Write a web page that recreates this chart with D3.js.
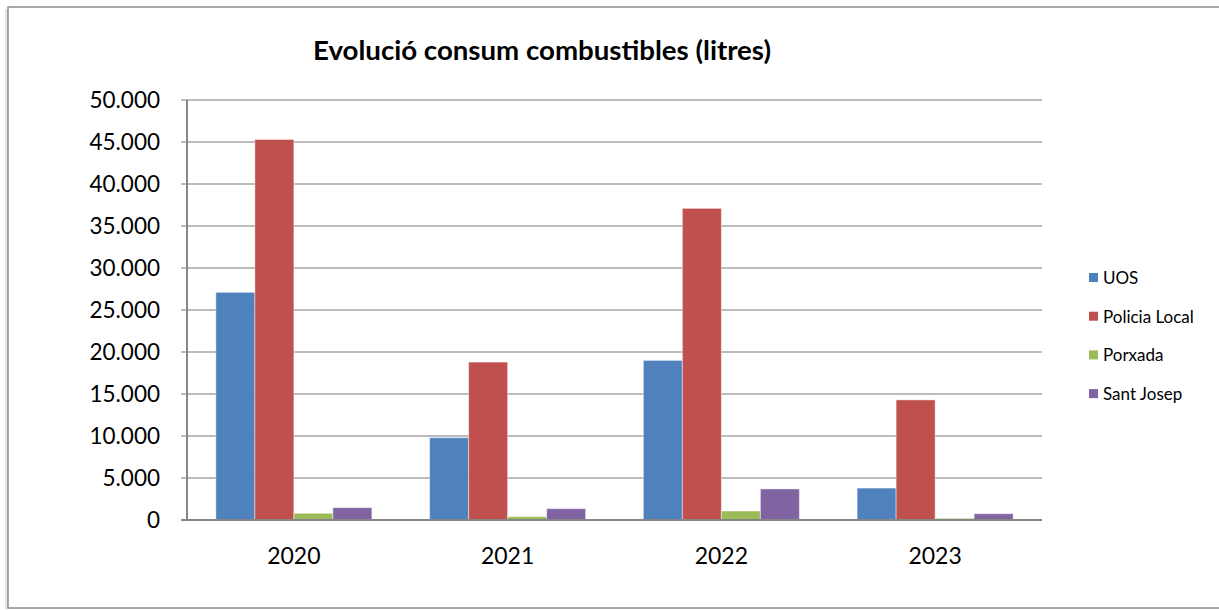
<!DOCTYPE html>
<html><head><meta charset="utf-8">
<script src="https://cdn.jsdelivr.net/npm/d3@7"></script>
<style>body{margin:0;background:#fff}svg{display:block}</style>
</head><body><svg id="c" width="1219" height="610"></svg>
<script>
const title = "Evolució consum combustibles (litres)";
const years = ["2020","2021","2022","2023"];
const seriesNames = ["UOS","Policia Local","Porxada","Sant Josep"];
const uos = [27100, 9800, 19000, 3800];
const policia = [45300, 18800, 37100, 14300];
const porxada = [800, 400, 1070, 200];
const santJosep = [1470, 1350, 3700, 750];
const yTicks = [0,5000,10000,15000,20000,25000,30000,35000,40000,45000,50000];
const colors = ["#4F81BD","#C0504D","#9BBB59","#8064A2"];
const seriesValues = [uos, policia, porxada, santJosep];

const svg = d3.select("#c");
const font = "Lato, 'Open Sans', sans-serif";

// outer frame with soft shadow
svg.append("rect").attr("x",5).attr("y",9).attr("width",5).attr("height",600).attr("fill","#e4e4e4");
svg.append("rect").attr("x",8).attr("y",7).attr("width",1215).attr("height",601)
  .attr("fill","#fff").attr("stroke","#8c8c8c").attr("stroke-width",1.5);

const m = {l:187, t:100, r:1042, b:520};
const x = d3.scaleBand().domain(years).range([m.l,m.r]).paddingInner(0.27).paddingOuter(0.135);
const xs = d3.scaleBand().domain(seriesNames).range([0,x.bandwidth()]);
const y = d3.scaleLinear().domain([0,50000]).range([m.b,m.t]);

// gridlines
svg.append("g").selectAll("line").data(yTicks.filter(d=>d>0)).join("line")
  .attr("x1",m.l-6).attr("x2",m.r).attr("y1",d=>y(d)).attr("y2",d=>y(d))
  .attr("stroke","#a6a6a6").attr("stroke-width",1.5);

// bars
years.forEach((yr,i)=>{
  seriesNames.forEach((s,j)=>{
    const v = seriesValues[j][i];
    svg.append("rect").attr("x",x(yr)+xs(s)).attr("y",y(v))
      .attr("width",xs.bandwidth()).attr("height",y(0)-y(v))
      .attr("fill",colors[j]).attr("stroke","rgba(255,255,255,0.45)").attr("stroke-width",1);
  });
});

// axes lines
svg.append("line").attr("x1",m.l).attr("x2",m.l).attr("y1",m.t).attr("y2",m.b)
  .attr("stroke","#868686").attr("stroke-width",2);
svg.append("line").attr("x1",m.l-6).attr("x2",m.r).attr("y1",m.b).attr("y2",m.b)
  .attr("stroke","#868686").attr("stroke-width",2);

// y labels
const fmt = d3.formatLocale({decimal:",",thousands:".",grouping:[3],currency:["",""]}).format(",d");
svg.append("g").selectAll("text").data(yTicks).join("text")
  .attr("x",160).attr("y",d=>y(d)+8).attr("text-anchor","end")
  .attr("font-family",font).attr("font-size",22.5).attr("fill","#000").text(d=>fmt(d));

// x labels
svg.append("g").selectAll("text").data(years).join("text")
  .attr("x",d=>x(d)+x.bandwidth()/2).attr("y",564).attr("text-anchor","middle")
  .attr("font-family",font).attr("font-size",23).attr("fill","#000").text(d=>d);

// title
svg.append("text").attr("x",542).attr("y",60).attr("text-anchor","middle")
  .attr("font-family",font).attr("font-weight","bold").attr("font-size",26)
  .attr("textLength",458).attr("lengthAdjust","spacingAndGlyphs").text(title);

// legend
const lg = svg.append("g");
seriesNames.forEach((s,j)=>{
  const yy = 280 + j*38.7;
  lg.append("rect").attr("x",1089).attr("y",yy-7).attr("width",9).attr("height",9).attr("fill",colors[j]);
  lg.append("text").attr("x",1103).attr("y",yy+4).attr("font-family",font).attr("font-size",17).text(s);
});
</script></body></html>
